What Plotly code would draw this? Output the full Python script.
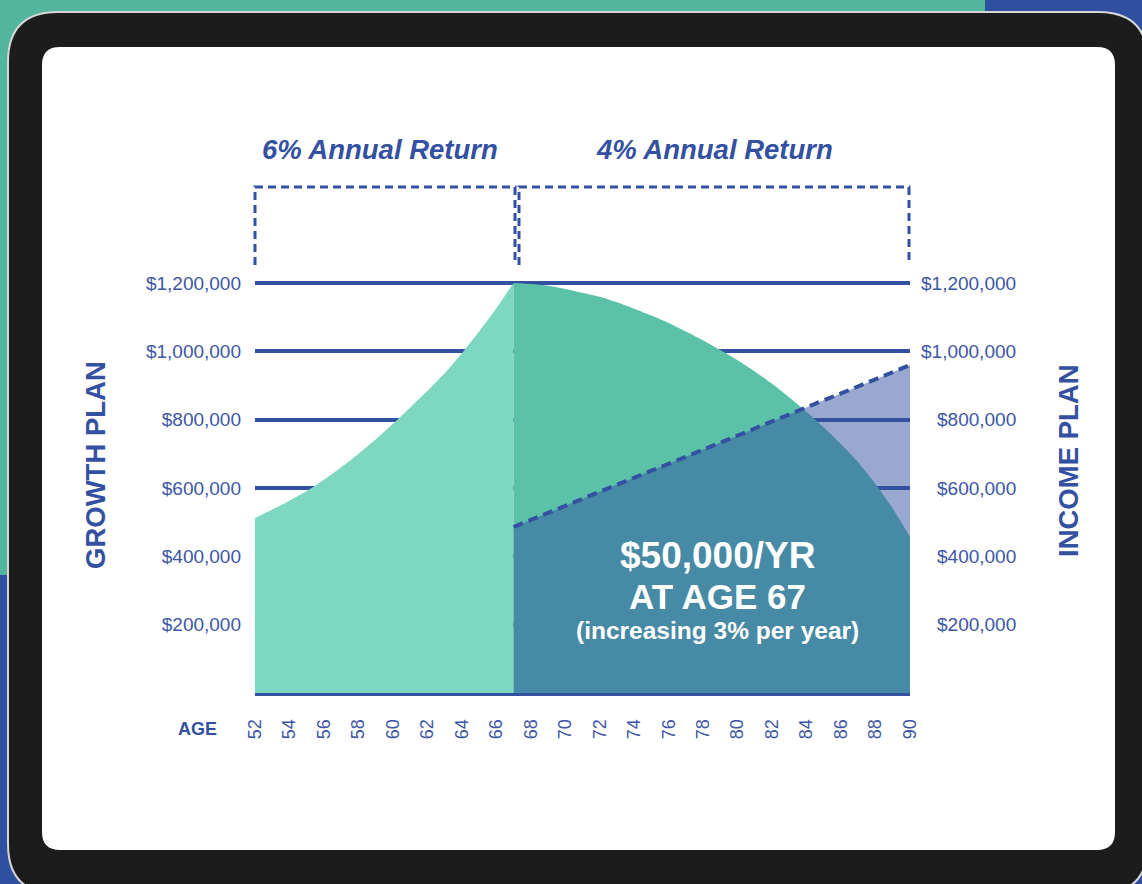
import plotly.graph_objects as go

# ---------------- data ----------------
growth_ages = list(range(52, 68))
growth_values = [512000, 537000, 563000, 591000, 624000, 661000, 700000, 742000,
                 788000, 836000, 884000, 936000, 994000, 1058000, 1126000, 1200000]

income_ages = list(range(67, 91))
balance_values = [1200000, 1197000, 1192000, 1183000, 1172000, 1160000, 1144000, 1125000,
                  1105000, 1083000, 1058000, 1032000, 1004000, 974000, 941000, 905000,
                  865000, 823000, 777000, 728000, 675000, 612000, 540000, 457000]
income_values = [486000, 507000, 527000, 548000, 568000, 589000, 610000, 630000,
                 651000, 671000, 692000, 713000, 733000, 754000, 774000, 795000,
                 816000, 836000, 857000, 877000, 898000, 919000, 939000, 960000]

x_ticks = list(range(52, 91, 2))
y_ticks = [200000, 400000, 600000, 800000, 1000000, 1200000]
y_tick_text = ["$200,000", "$400,000", "$600,000", "$800,000", "$1,000,000", "$1,200,000"]
phase_titles = ["6% Annual Return", "4% Annual Return"]
left_title = "GROWTH PLAN"
right_title = "INCOME PLAN"
center_text = ["$50,000/YR", "AT AGE 67", "(increasing 3% per year)"]

# ---------------- style ----------------
W, H = 1142, 884
L, R, T, B = 255, 232, 266, 191
PW, PH = W - L - R, H - T - B
BLUE = "#3451a1"
LABEL = "#3d56a6"
MINT = "#7ed8c0"
GREEN = "#5bc2a8"
FONT = "Liberation Sans, Arial, Helvetica, sans-serif"


def px(X):
    return (X - L) / PW


def py(Y):
    return (H - B - Y) / PH


def rrect(x0, y0, x1, y1, r):
    pts = [
        ("M", px(x0 + r), py(y0)),
        ("L", px(x1 - r), py(y0)),
        ("Q", px(x1), py(y0), px(x1), py(y0 + r)),
        ("L", px(x1), py(y1 - r)),
        ("Q", px(x1), py(y1), px(x1 - r), py(y1)),
        ("L", px(x0 + r), py(y1)),
        ("Q", px(x0), py(y1), px(x0), py(y1 - r)),
        ("L", px(x0), py(y0 + r)),
        ("Q", px(x0), py(y0), px(x0 + r), py(y0)),
    ]
    s = ""
    for p in pts:
        cmd = p[0]
        nums = p[1:]
        coords = " ".join(f"{nums[i]:.5f},{nums[i+1]:.5f}" for i in range(0, len(nums), 2))
        s += f"{cmd} {coords} "
    return s + "Z"


def open_box(x0, x1, ytop, ybot):
    return (f"M {px(x0):.5f},{py(ybot):.5f} L {px(x0):.5f},{py(ytop):.5f} "
            f"L {px(x1):.5f},{py(ytop):.5f} L {px(x1):.5f},{py(ybot):.5f}")


fig = go.Figure()

fig.add_trace(go.Scatter(x=growth_ages, y=growth_values, mode="none", fill="tozeroy",
                         fillcolor=MINT, line=dict(shape="spline", smoothing=0.6),
                         hoverinfo="skip", showlegend=False))
fig.add_trace(go.Scatter(x=income_ages, y=balance_values, mode="none", fill="tozeroy",
                         fillcolor=GREEN, line=dict(shape="spline", smoothing=0.6),
                         hoverinfo="skip", showlegend=False))
fig.add_trace(go.Scatter(x=income_ages, y=income_values, mode="lines", fill="tozeroy",
                         fillcolor="rgba(52,81,161,0.5)",
                         line=dict(color=BLUE, width=4, dash="10px,6px"),
                         hoverinfo="skip", showlegend=False))

shapes = []
# background patches
shapes.append(dict(type="rect", xref="paper", yref="paper", x0=px(985), x1=px(1142),
                   y0=py(0), y1=py(60), fillcolor="#2f4f9f", line=dict(width=0), layer="below"))
shapes.append(dict(type="rect", xref="paper", yref="paper", x0=px(0), x1=px(80),
                   y0=py(575), y1=py(884), fillcolor="#2f4f9f", line=dict(width=0), layer="below"))
shapes.append(dict(type="rect", xref="paper", yref="paper", x0=px(1080), x1=px(1142),
                   y0=py(780), y1=py(884), fillcolor="#2f4f9f", line=dict(width=0), layer="below"))
# tablet frame
shapes.append(dict(type="path", xref="paper", yref="paper", path=rrect(8, 12, 1148, 894, 50),
                   fillcolor="#1c1c1c", line=dict(color="#d6d6d6", width=2), layer="below"))
# screen
shapes.append(dict(type="path", xref="paper", yref="paper", path=rrect(42, 47, 1115, 850, 18),
                   fillcolor="#ffffff", line=dict(width=0), layer="below"))
# dashed phase boxes
shapes.append(dict(type="path", xref="paper", yref="paper", path=open_box(255, 515, 187, 265),
                   line=dict(color=BLUE, width=3, dash="8px,5px")))
shapes.append(dict(type="path", xref="paper", yref="paper", path=open_box(519, 909, 187, 265),
                   line=dict(color=BLUE, width=3, dash="8px,5px")))


def ann(X, Y, text, size, color, angle=0):
    return dict(xref="paper", yref="paper", x=px(X), y=py(Y), text=text, textangle=angle,
                xanchor="center", yanchor="middle", showarrow=False,
                font=dict(family=FONT, size=size, color=color))


annotations = [
    ann(380, 150, f"<b><i>{phase_titles[0]}</i></b>", 27.5, BLUE),
    ann(714, 150, f"<b><i>{phase_titles[1]}</i></b>", 27.5, BLUE),
    ann(95, 465, f"<b>{left_title}</b>", 27.5, BLUE, -90),
    ann(1068, 461, f"<b>{right_title}</b>", 27.5, BLUE, -90),
    ann(197, 729, "<b>AGE</b>", 18, BLUE),
    ann(717, 555, f"<b>{center_text[0]}</b>", 37, "white"),
    ann(717, 596, f"<b>{center_text[1]}</b>", 35, "white"),
    ann(717, 630, f"<b>{center_text[2]}</b>", 24.5, "white"),
]
for v, t in zip(y_ticks, y_tick_text):
    annotations.append(dict(xref="paper", yref="y", x=px(1018), y=v, text=t, xanchor="right",
                            yanchor="middle", showarrow=False,
                            font=dict(family=FONT, size=19, color=LABEL)))

fig.update_layout(
    width=W, height=H,
    margin=dict(l=L, r=R, t=T, b=B, pad=0),
    paper_bgcolor="#52b69d",
    plot_bgcolor="rgba(0,0,0,0)",
    shapes=shapes,
    annotations=annotations,
    showlegend=False,
    xaxis=dict(range=[52, 90], tickvals=x_ticks, tickangle=-90, showgrid=False, zeroline=False,
               showline=True, linecolor=BLUE, linewidth=3, ticks="", ticklabelstandoff=16,
               tickfont=dict(family=FONT, size=18, color=LABEL), fixedrange=True),
    yaxis=dict(range=[0, 1250000], tickvals=y_ticks, ticktext=y_tick_text, showgrid=True,
               gridcolor=BLUE, gridwidth=4, zeroline=False, showline=False, ticks="",
               ticklabelstandoff=13, tickfont=dict(family=FONT, size=19, color=LABEL), fixedrange=True),
)

fig.write_html("out.html")
